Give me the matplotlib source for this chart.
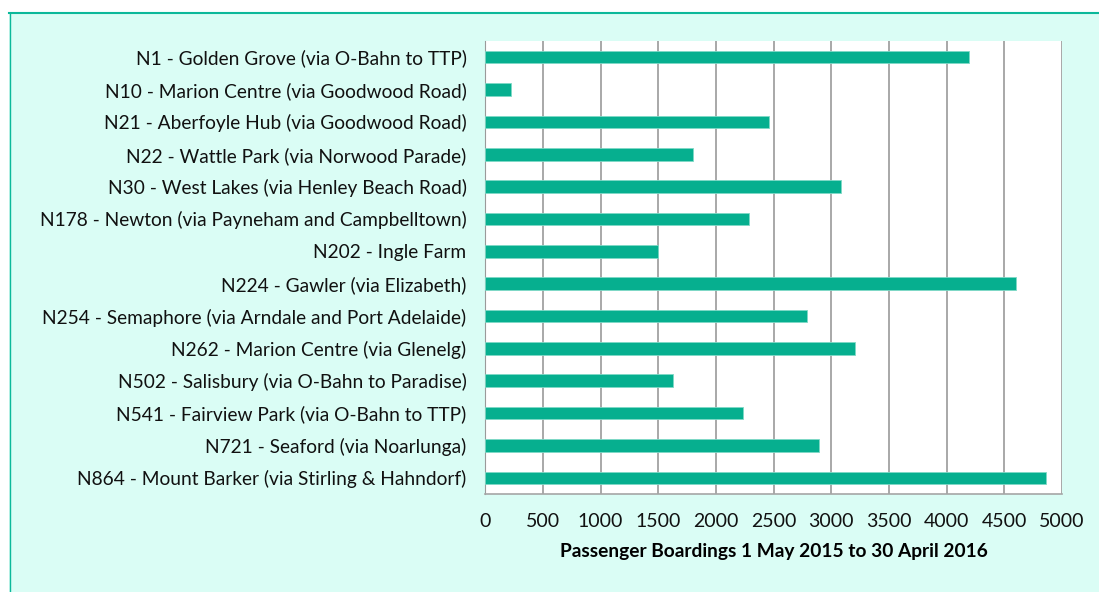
import matplotlib.pyplot as plt
from matplotlib.patches import Rectangle

routes = [
    "N1 - Golden Grove (via O-Bahn to TTP)",
    "N10 - Marion Centre (via Goodwood Road)",
    "N21 - Aberfoyle Hub (via Goodwood Road)",
    "N22 - Wattle Park (via Norwood Parade)",
    "N30 - West Lakes (via Henley Beach Road)",
    "N178 - Newton (via Payneham and Campbelltown)",
    "N202 - Ingle Farm",
    "N224 - Gawler (via Elizabeth)",
    "N254 - Semaphore (via Arndale and Port Adelaide)",
    "N262 - Marion Centre (via Glenelg)",
    "N502 - Salisbury (via O-Bahn to Paradise)",
    "N541 - Fairview Park (via O-Bahn to TTP)",
    "N721 - Seaford (via Noarlunga)",
    "N864 - Mount Barker (via Stirling & Hahndorf)",
]
boardings = [4192, 220, 2457, 1803, 3081, 2289, 1495, 4599, 2792, 3203, 1627, 2234, 2893, 4861]
x_ticks = [0, 500, 1000, 1500, 2000, 2500, 3000, 3500, 4000, 4500, 5000]

plt.rcParams["font.family"] = ["Lato", "DejaVu Sans"]

bg = "#dafdf5"
teal = "#06af8f"
grid_col = "#9a9a9a"

fig = plt.figure(figsize=(10.99, 5.92), dpi=100)
fig.patch.set_facecolor("white")

# light panel with teal border on top and left
W, H = 1099, 592
fig.add_artist(Rectangle((9 / W, 0), 1, 1 - 12 / H, transform=fig.transFigure,
                         facecolor=bg, edgecolor="none", zorder=-5))
fig.add_artist(plt.Line2D([9 / W, 1], [1 - 12.5 / H] * 2, transform=fig.transFigure,
                          color="#0bb89a", lw=1.5, zorder=-4))
fig.add_artist(plt.Line2D([9.5 / W] * 2, [0, 1 - 12.5 / H], transform=fig.transFigure,
                          color="#0bb89a", lw=1.0, zorder=-4))

left, right = 485.3 / W, 1062 / W
top, bottom = 41 / H, 494 / H
ax = fig.add_axes([left, 1 - bottom, right - left, bottom - top])
ax.set_zorder(2)
ax.set_facecolor("white")

ypos = list(range(len(routes)))
ax.barh(ypos, boardings, height=0.39, color=teal, edgecolor="#7fd9c6",
        linewidth=0.6, zorder=3)
ax.set_yticks(ypos)
ax.set_yticklabels(routes, fontsize=13.8, color="#111111")
ax.set_ylim(len(routes) - 0.5, -0.5)

ax.set_xlim(0, 5000)
ax.set_xticks(x_ticks)
ax.set_xticklabels([str(t) for t in x_ticks], fontsize=14, color="#111111")
ax.xaxis.grid(True, color=grid_col, linewidth=1.2, zorder=1)
ax.set_axisbelow(True)
ax.tick_params(axis="y", length=0, pad=13.5)
ax.tick_params(axis="x", length=0, pad=14)

for side in ["top", "right"]:
    ax.spines[side].set_visible(False)
ax.spines["left"].set_color(grid_col)
ax.spines["bottom"].set_color("#a6a6a6")
ax.spines["bottom"].set_linewidth(1.2)

ax.set_xlabel("Passenger Boardings 1 May 2015 to 30 April 2016", fontsize=13.8,
              fontweight="bold", labelpad=9)

fig.savefig("out.png", dpi=100, facecolor=fig.get_facecolor())
